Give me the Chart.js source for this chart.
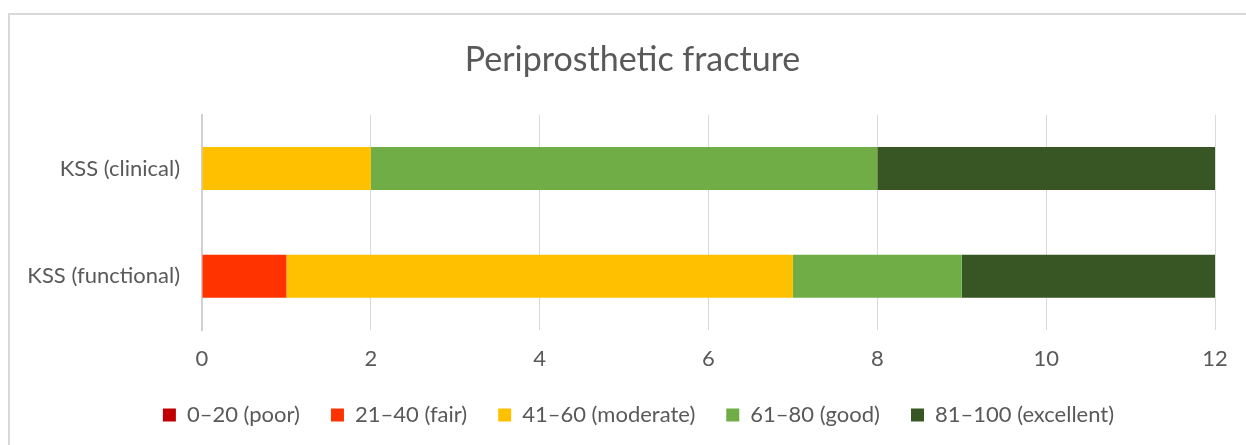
<!DOCTYPE html>
<html>
<head>
<meta charset="utf-8">
<script src="https://cdn.jsdelivr.net/npm/chart.js@4.4.1/dist/chart.umd.min.js"></script>
<style>
  html, body { margin: 0; padding: 0; background: #fff; overflow: hidden; }
  #frame {
    position: absolute; left: 8px; top: 13px; width: 1260px; height: 460px;
    border: 2px solid #d9d9d9; box-sizing: border-box;
  }
  #wrap { position: absolute; left: 0; top: 0; width: 1246px; height: 445px; }
</style>
</head>
<body>
<div id="frame"></div>
<div id="wrap"><canvas id="chart"></canvas></div>
<script>
const categories = ['KSS (clinical)', 'KSS (functional)'];
const seriesNames = ['0\u201320 (poor)', '21\u201340 (fair)', '41\u201360 (moderate)', '61\u201380 (good)', '81\u2013100 (excellent)'];
const poor = [0, 0];
const fair = [0, 1];
const moderate = [2, 6];
const good = [6, 2];
const excellent = [4, 3];
const xTicks = [0, 2, 4, 6, 8, 10, 12];

const colors = ['#C00000', '#FF3300', '#FFC000', '#70AD47', '#375623'];
const values = [poor, fair, moderate, good, excellent];
const font = "Lato, 'Open Sans', sans-serif";
const textColor = '#595959';

// title and legend sit centred on the whole frame, not on the plot
const centreShift = {
    id: 'centreShift',
    afterLayout(chart) {
        const t = chart.titleBlock, l = chart.legend;
        if (t) { t.left += 25; t.right += 25; }
        if (l) { l.left += 31; l.right += 31; }
    }
};

new Chart(document.getElementById('chart'), {
    type: 'bar',
    data: {
        labels: categories,
        datasets: seriesNames.map((name, i) => ({
            label: name,
            data: values[i],
            backgroundColor: colors[i],
            borderWidth: 0,
            categoryPercentage: 1,
            barPercentage: 0.4
        }))
    },
    plugins: [centreShift],
    options: {
        indexAxis: 'y',
        responsive: true,
        maintainAspectRatio: false,
        animation: false,
        layout: { padding: { left: 0, right: 31, top: 0, bottom: 9 } },
        scales: {
            x: {
                stacked: true,
                min: 0,
                max: 12,
                afterBuildTicks: (axis) => { axis.ticks = xTicks.map(v => ({ value: v })); },
                afterFit: (axis) => {
                    axis.height = 43;
                    axis.paddingLeft = 0;
                    axis.paddingRight = 0;
                },
                ticks: { color: textColor, font: { family: font, size: 22 }, padding: 16 },
                grid: { color: '#d9d9d9', lineWidth: 1, drawTicks: false },
                border: { display: false }
            },
            y: {
                stacked: true,
                afterFit: (axis) => { axis.width = 202; },
                ticks: { color: textColor, font: { family: font, size: 22 }, padding: 22 },
                grid: { display: false, drawTicks: false },
                border: { display: true, color: '#d0d0d0', width: 2 }
            }
        },
        plugins: {
            title: {
                display: true,
                text: 'Periprosthetic fracture',
                color: textColor,
                font: { family: font, size: 34, weight: 'normal' },
                padding: { top: 40, bottom: 34 }
            },
            legend: {
                position: 'bottom',
                labels: {
                    color: textColor,
                    font: { family: font, size: 22 },
                    boxWidth: 13,
                    boxHeight: 13,
                    padding: 31
                }
            },
            tooltip: { enabled: false }
        }
    }
});
</script>
</body>
</html>
